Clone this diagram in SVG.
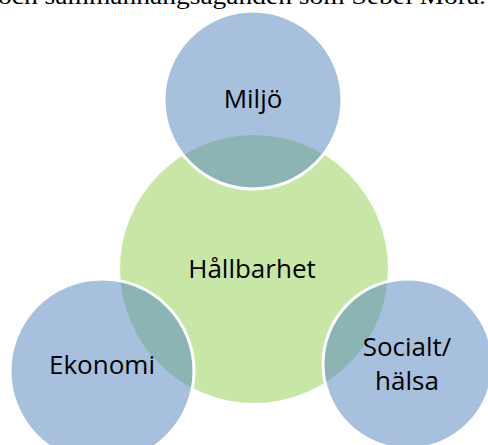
<svg xmlns="http://www.w3.org/2000/svg" width="488" height="445" viewBox="0 0 488 445">
  <style>
    .lbl { font-family: "Open Sans", "Noto Sans", sans-serif; font-size: 26px; fill: #000; text-anchor: middle; }
    .blue { fill: #4F81BD; fill-opacity: 0.5; stroke: #FFFFFF; stroke-width: 3; }
    .green { fill: #92D050; fill-opacity: 0.5; }
    .top { font-family: "Liberation Serif", "Times New Roman", serif; font-size: 23px; fill: #000; }
  </style>
  <rect width="488" height="445" fill="#FFFFFF"/>
  <text class="top" x="-2" y="4" textLength="488" lengthAdjust="spacingAndGlyphs">och sammanhangsaganden som Sebel Mora.</text>
  <g id="hallbarhet">
    <circle class="green" cx="254" cy="269" r="134"/>
  </g>
  <g id="miljo">
    <circle class="blue" cx="253" cy="100" r="89"/>
    <text class="lbl" x="253" y="108">Miljö</text>
  </g>
  <g id="ekonomi">
    <circle class="blue" cx="102" cy="371" r="92"/>
    <text class="lbl" x="102" y="374">Ekonomi</text>
  </g>
  <g id="socialt">
    <circle class="blue" cx="408" cy="364" r="85"/>
    <text class="lbl" x="407" y="356">Socialt/</text>
    <text class="lbl" x="407" y="390">hälsa</text>
  </g>
  <g id="hallbarhet-label">
    <text class="lbl" x="252" y="278">Hållbarhet</text>
  </g>
  <g id="connectors"/>
</svg>
